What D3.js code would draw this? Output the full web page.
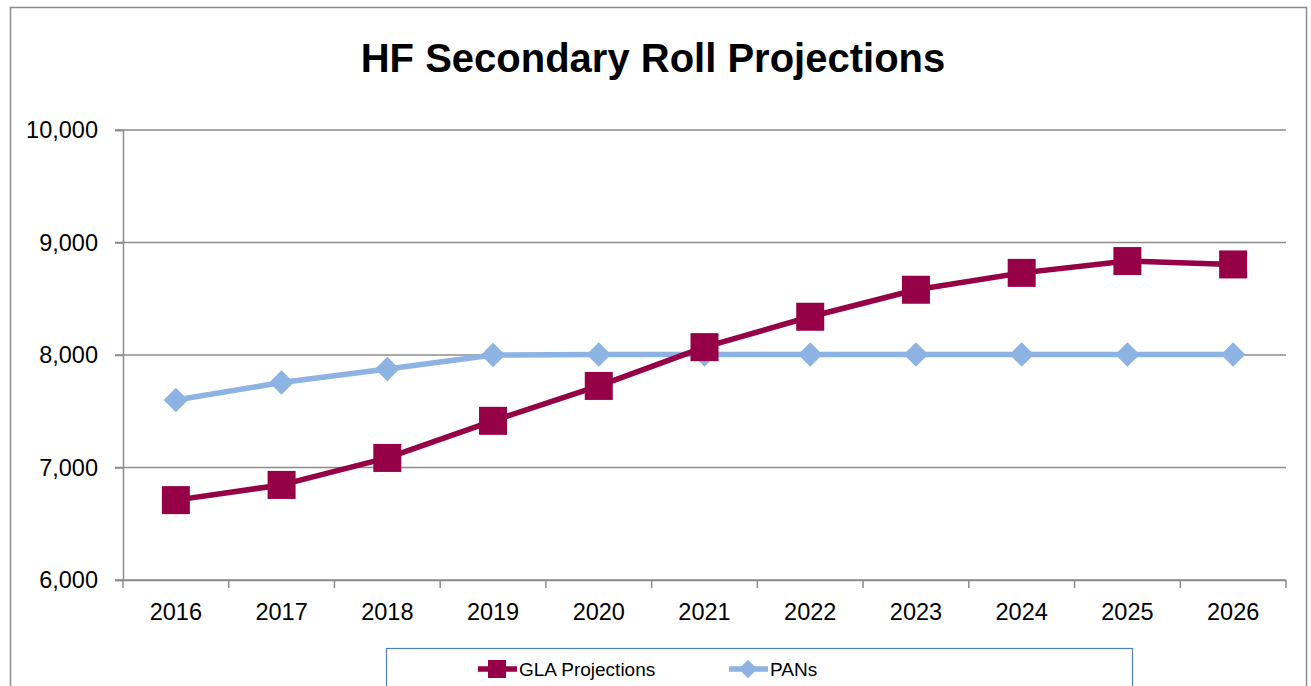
<!DOCTYPE html>
<html>
<head>
<meta charset="utf-8">
<script src="https://cdn.jsdelivr.net/npm/d3@7"></script>
<style>
body{margin:0;background:#fff;}
svg{display:block;}
</style>
</head>
<body>
<svg id="chart" width="1311" height="686"></svg>
<script>
// values
var years = ["2016","2017","2018","2019","2020","2021","2022","2023","2024","2025","2026"];
var glaValues = [6710, 6845, 7085, 7415, 7725, 8070, 8340, 8580, 8730, 8835, 8805];
var panValues = [7600, 7755, 7875, 8000, 8005, 8005, 8005, 8005, 8005, 8005, 8005];
var yTicks = [6000, 7000, 8000, 9000, 10000];
var seriesNames = ["GLA Projections", "PANs"];

var font = "'Liberation Sans', Arial, sans-serif";
var svg = d3.select("#chart");

// outer frame
svg.append("rect")
	.attr("x",10.5).attr("y",7.5)
	.attr("width",1296).attr("height",700)
	.attr("fill","none")
	.attr("stroke","#8c8c8c")
	.attr("stroke-width",1.5);

svg.append("text")
	.attr("x",653).attr("y",72)
	.attr("text-anchor","middle")
	.attr("font-family",font)
	.attr("font-weight","bold")
	.attr("font-size",40)
	.text("HF Secondary Roll Projections");

var pLeft = 123, pRight = 1286, pTop = 130, pBottom = 580;

var x = d3.scaleBand().domain(years).range([pLeft,pRight]);
var y = d3.scaleLinear().domain([6000,10000]).range([pBottom,pTop]);

// gridlines
svg.append("g")
	.selectAll("line")
	.data(yTicks)
	.enter()
	.append("line")
	.attr("x1",pLeft - 8).attr("x2",pRight)
	.attr("y1",function(d){return y(d);})
	.attr("y2",function(d){return y(d);})
	.attr("stroke","#8c8c8c")
	.attr("stroke-width",1.5);

// y axis
var yAxis = svg.append("g")
	.attr("transform","translate(" + pLeft + ",0)")
	.call(d3.axisLeft(y).tickValues(yTicks).tickSize(8).tickPadding(17).tickFormat(d3.format(",")));
yAxis.select(".domain").attr("stroke","#8c8c8c").attr("stroke-width",1.5);
yAxis.selectAll(".tick line").attr("stroke","#8c8c8c").attr("stroke-width",1.5);
yAxis.selectAll("text").attr("font-family",font).attr("font-size",23.5).attr("fill","#000");

// x axis with ticks on band edges
var xAxis = svg.append("g")
	.attr("transform","translate(0," + pBottom + ")")
	.call(d3.axisBottom(x).tickSize(0).tickPadding(23));
xAxis.select(".domain").attr("stroke","#8c8c8c").attr("stroke-width",1.5);
xAxis.selectAll("text").attr("font-family",font).attr("font-size",23.5).attr("fill","#000");
svg.append("g")
	.selectAll("line")
	.data(years.concat(["end"]))
	.enter()
	.append("line")
	.attr("x1",function(d,i){return pLeft + i*x.bandwidth();})
	.attr("x2",function(d,i){return pLeft + i*x.bandwidth();})
	.attr("y1",pBottom).attr("y2",pBottom + 8)
	.attr("stroke","#8c8c8c")
	.attr("stroke-width",1.5);

var glaColor = "#960046";
var panColor = "#8db3e2";

function cx(d,i){return x(years[i]) + x.bandwidth()/2;}

var line = d3.line()
	.x(function(d,i){return cx(d,i);})
	.y(function(d){return y(d);});

// PANs
svg.append("path")
	.datum(panValues)
	.attr("d",line)
	.attr("fill","none")
	.attr("stroke",panColor)
	.attr("stroke-width",5.5)
	.attr("stroke-linejoin","round");
svg.append("g")
	.selectAll("path")
	.data(panValues)
	.enter()
	.append("path")
	.attr("d",d3.symbol().type(d3.symbolSquare).size(300))
	.attr("transform",function(d,i){return "translate(" + cx(d,i) + "," + y(d) + ") rotate(45)";})
	.attr("fill",panColor);

// GLA
svg.append("path")
	.datum(glaValues)
	.attr("d",line)
	.attr("fill","none")
	.attr("stroke",glaColor)
	.attr("stroke-width",5.5)
	.attr("stroke-linejoin","round");
svg.append("g")
	.selectAll("rect")
	.data(glaValues)
	.enter()
	.append("rect")
	.attr("x",function(d,i){return cx(d,i) - 14;})
	.attr("y",function(d){return y(d) - 14;})
	.attr("width",28).attr("height",28)
	.attr("fill",glaColor);

// legend
svg.append("rect")
	.attr("x",386.5).attr("y",648.5)
	.attr("width",746).attr("height",60)
	.attr("fill","#fff")
	.attr("stroke","#4f81bd")
	.attr("stroke-width",1.2);

var legend = svg.append("g");
var lx = [478, 729];
var colors = [glaColor, panColor];
seriesNames.forEach(function(name,i){
	var g = legend.append("g");
	g.append("line")
		.attr("x1",lx[i]).attr("x2",lx[i] + 39)
		.attr("y1",669).attr("y2",669)
		.attr("stroke",colors[i])
		.attr("stroke-width",5.5);
	if(i == 0){
		g.append("rect")
			.attr("x",lx[i] + 10).attr("y",660)
			.attr("width",18).attr("height",18)
			.attr("fill",colors[i]);
	}else{
		g.append("path")
			.attr("d",d3.symbol().type(d3.symbolSquare).size(170))
			.attr("transform","translate(" + (lx[i] + 19) + ",669) rotate(45)")
			.attr("fill",colors[i]);
	}
	g.append("text")
		.attr("x",lx[i] + 41).attr("y",676)
		.attr("font-family",font)
		.attr("font-size",19)
		.text(name);
});
</script>
</body>
</html>
